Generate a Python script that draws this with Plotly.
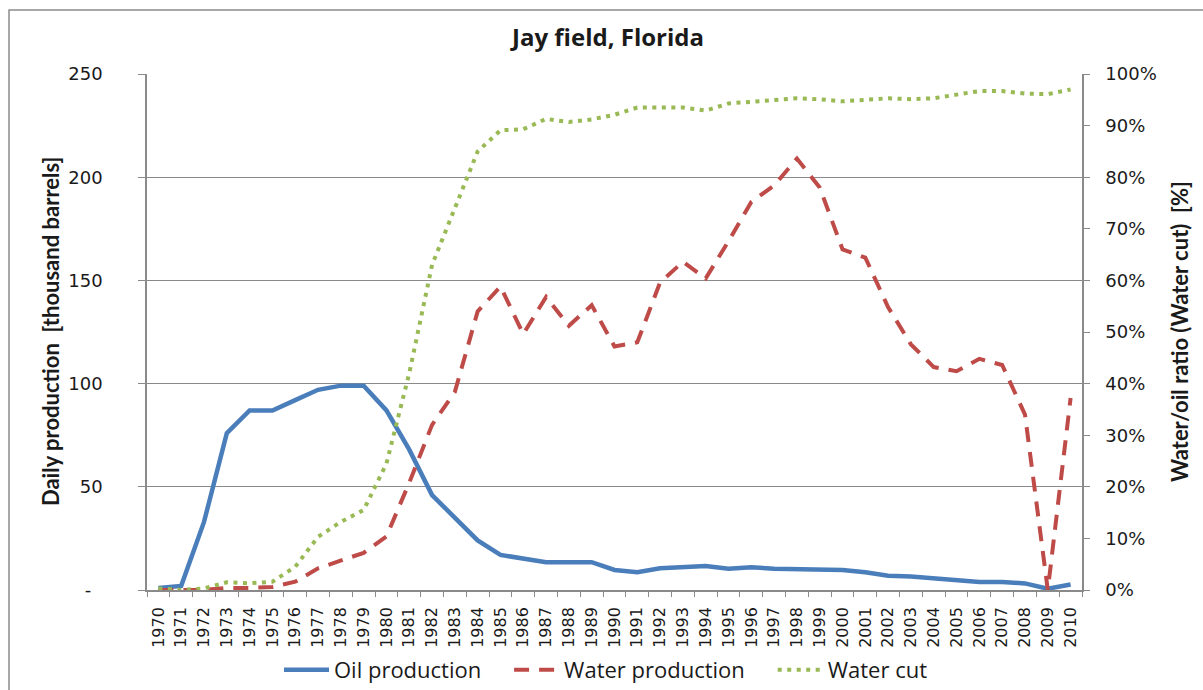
import plotly.graph_objects as go

years = [str(y) for y in range(1970, 2011)]

oil_production = [1, 2, 33, 76, 87, 87, 92, 97, 99, 99,
                  87, 68, 46, 35, 24, 17, 15, 13.5, 13.5, 13.5,
                  9.7, 8.6, 10.5, 11, 11.6, 10.3, 11, 10.3, 10, 10,
                  9.7, 8.6, 6.9, 6.5, 5.5, 5, 3.9, 3.9, 3.2, 0.6, 2.7]

water_production = [0, 0, 0, 1, 1, 1.5, 4, 10.5, 14.5, 18,
                    26, 52, 80, 96, 135, 147, 124, 142, 128, 138,
                    118, 120, 149, 159, 151, 169, 188, 196, 209, 195,
                    165, 161, 137, 119, 108, 106, 112, 109, 85, 0, 93]

water_cut_pct = [0.3, 0, 0.3, 1.5, 1.3, 1.6, 4.5, 10.3, 13.2, 15.5,
                 24.5, 42, 63, 74, 85, 89.1, 89.3, 91.3, 90.7, 91.2,
                 92.1, 93.5, 93.5, 93.5, 92.9, 94.3, 94.6, 95, 95.3, 95.1,
                 94.7, 95, 95.3, 95.1, 95.3, 96, 96.7, 96.7, 96.2, 96.1, 97]

left_tickvals = [0, 50, 100, 150, 200, 250]
left_ticktext = ["-\u00a0\u00a0", "50", "100", "150", "200", "250"]
right_tickvals = [0, 10, 20, 30, 40, 50, 60, 70, 80, 90, 100]
right_ticktext = [f"{v}%" for v in right_tickvals]

W, H = 1203, 690
L, R, T, B = 147, 121, 74, 100
pw, ph = W - L - R, H - T - B

def px_x(p):
    return (p - L) / pw

def px_y(p):
    return (H - B - p) / ph

TEXT = "#1a1a1a"
GRID = "#8a8a8a"
YTICKFONT = dict(family="DejaVu Sans, Verdana, sans-serif", size=18, color=TEXT)
XTICKFONT = dict(family="DejaVu Sans, Verdana, sans-serif", size=16, color=TEXT)
PAD = "\u00a0" * 4

fig = go.Figure()
fig.add_trace(go.Scatter(x=years, y=oil_production, name="Oil production" + PAD, mode="lines",
                         line=dict(color="#4A7EBB", width=4.5), yaxis="y"))
fig.add_trace(go.Scatter(x=years, y=water_production, name="Water production" + PAD,
                         mode="lines",
                         line=dict(color="#BE4B48", width=4, dash="15px,10px"), yaxis="y"))
fig.add_trace(go.Scatter(x=years, y=water_cut_pct, name="Water cut", mode="lines",
                         line=dict(color="#98B954", width=4, dash="4px,5.5px"), yaxis="y2"))

fig.update_layout(
    width=W, height=H,
    margin=dict(l=L, r=R, t=T, b=B, pad=0, autoexpand=False),
    paper_bgcolor="white", plot_bgcolor="white",
    title=dict(text="<b>Jay field, Florida</b>", x=608 / W, xanchor="center",
               y=1 - 38 / H, yanchor="middle", yref="container",
               font=dict(family="Open Sans, sans-serif", size=24, color=TEXT)),
    xaxis=dict(type="category", tickangle=-90, tickson="boundaries", ticks="outside",
               ticklen=5, tickcolor=GRID, showline=True, linecolor=GRID, linewidth=1.5,
               showgrid=False, tickfont=XTICKFONT, ticklabelstandoff=9,
               automargin=False, range=[-0.5, len(years) - 0.5]),
    yaxis=dict(range=[0, 250], tickvals=left_tickvals, ticktext=left_ticktext,
               ticks="outside", ticklen=7, tickcolor=GRID, showline=True, linecolor=GRID,
               linewidth=1.5, showgrid=True, gridcolor=GRID, gridwidth=1.2,
               zeroline=False, tickfont=YTICKFONT, ticklabelstandoff=32, automargin=False),
    yaxis2=dict(range=[0, 100], tickvals=right_tickvals, ticktext=right_ticktext,
                overlaying="y", side="right", ticks="outside", ticklen=6, tickcolor=GRID,
                showline=True, linecolor=GRID, linewidth=1.5, showgrid=False,
                zeroline=False, tickfont=YTICKFONT, ticklabelstandoff=12, automargin=False),
    legend=dict(orientation="h", x=606 / W, xref="container", xanchor="center",
                y=px_y(670), yanchor="middle", itemwidth=45,
                font=dict(family="Open Sans, sans-serif", size=22, color=TEXT),
                bgcolor="rgba(0,0,0,0)"),
    showlegend=True,
)

fig.add_annotation(text="<b>Daily production  [thousand barrels]</b>", textangle=-90,
                   xref="paper", yref="paper", x=px_x(50), y=px_y(332),
                   xanchor="center", yanchor="middle", showarrow=False,
                   font=dict(family="Lato, sans-serif", size=22, color=TEXT))
fig.add_annotation(text="<b>Water/oil ratio (Water cut)  [%]</b>", textangle=-90,
                   xref="paper", yref="paper", x=px_x(1179), y=px_y(332),
                   xanchor="center", yanchor="middle", showarrow=False,
                   font=dict(family="Lato, sans-serif", size=22, color=TEXT))

fig.add_shape(type="rect", xref="paper", yref="paper",
              x0=px_x(9), x1=px_x(1215), y0=px_y(700), y1=px_y(10),
              line=dict(color="#8c8c8c", width=1.5), layer="below")

fig.write_html("out.html", config={"displayModeBar": False})

with open("out.html", "r", encoding="utf-8") as f:
    html = f.read()
html = html.replace("<head>", "<head><style>html,body{margin:0;padding:0;overflow:hidden;}</style>", 1)
with open("out.html", "w", encoding="utf-8") as f:
    f.write(html)
